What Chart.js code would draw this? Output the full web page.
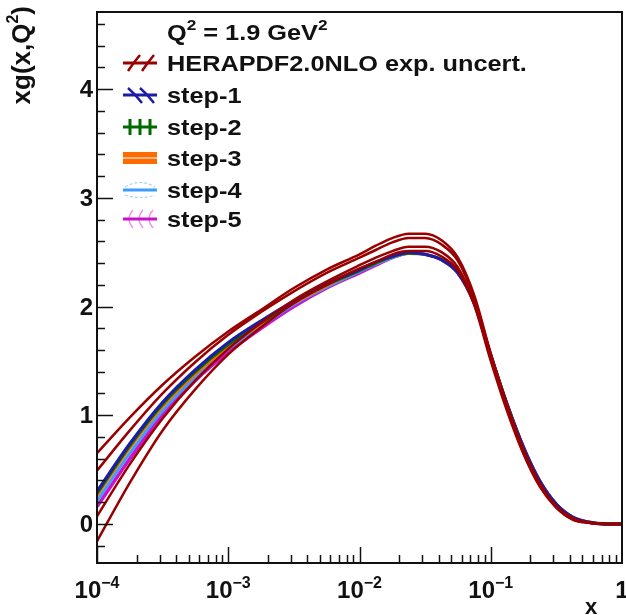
<!DOCTYPE html>
<html>
<head>
<meta charset="utf-8">
<script src="https://cdn.jsdelivr.net/npm/chart.js@4.4.0/dist/chart.umd.min.js"></script>
<style>
  html, body { margin: 0; padding: 0; background: #fff; }
  #wrap { width: 626px; height: 615px; position: relative; }
</style>
</head>
<body>
<div id="wrap"><canvas id="chart"></canvas></div>
<script>
// x grid: 4 points per decade below 0.01, 8 per decade above
const xPoints = [0.0001, 0.000178, 0.000316, 0.000562, 0.001, 0.00178, 0.00316, 0.00562,
                 0.01, 0.0133, 0.0178, 0.0237, 0.0316, 0.0422, 0.0562, 0.075,
                 0.1, 0.133, 0.178, 0.237, 0.316, 0.422, 0.562, 0.75, 1];

// HERAPDF2.0NLO exp. uncert. band edges
const heraUpperOuter = [0.65, 0.98, 1.28, 1.54, 1.77, 1.97, 2.17, 2.34, 2.48, 2.56, 2.63, 2.67, 2.67, 2.61, 2.45, 2.10,
                        1.57, 1.10, 0.68, 0.37, 0.16, 0.05, 0.01, 0, 0];
const heraUpperInner = [0.49, 0.86, 1.20, 1.49, 1.74, 1.95, 2.14, 2.31, 2.45, 2.52, 2.59, 2.63, 2.63, 2.57, 2.42, 2.07,
                        1.55, 1.08, 0.67, 0.36, 0.16, 0.05, 0.01, 0, 0];
const heraLowerInner = [0.07, 0.55, 0.97, 1.32, 1.61, 1.85, 2.06, 2.23, 2.38, 2.45, 2.51, 2.55, 2.55, 2.50, 2.36, 2.03,
                        1.52, 1.06, 0.65, 0.35, 0.15, 0.04, 0.01, 0, 0];
const heraLowerOuter = [-0.16, 0.38, 0.86, 1.24, 1.56, 1.81, 2.03, 2.20, 2.35, 2.41, 2.48, 2.51, 2.51, 2.46, 2.33, 2.01,
                        1.50, 1.04, 0.64, 0.34, 0.15, 0.04, 0.01, 0, 0];

// step fits
const step1 = [0.30, 0.74, 1.12, 1.42, 1.67, 1.87, 2.05, 2.21, 2.34, 2.41, 2.46, 2.50, 2.48, 2.43, 2.31, 2.03,
               1.55, 1.10, 0.70, 0.39, 0.18, 0.06, 0.015, 0, 0];
const step2 = [0.28, 0.72, 1.10, 1.40, 1.65, 1.85, 2.04, 2.20, 2.33, 2.40, 2.46, 2.49, 2.48, 2.43, 2.31, 2.03,
               1.55, 1.10, 0.70, 0.39, 0.18, 0.06, 0.015, 0, 0];
const step3 = [0.26, 0.70, 1.08, 1.38, 1.63, 1.84, 2.03, 2.19, 2.33, 2.40, 2.46, 2.49, 2.48, 2.43, 2.31, 2.03,
               1.55, 1.10, 0.70, 0.39, 0.18, 0.06, 0.015, 0, 0];
const step4 = [0.21, 0.65, 1.04, 1.35, 1.61, 1.82, 2.02, 2.18, 2.32, 2.39, 2.45, 2.49, 2.48, 2.43, 2.31, 2.03,
               1.55, 1.10, 0.70, 0.39, 0.18, 0.06, 0.015, 0, 0];
const step5 = [0.16, 0.60, 1.00, 1.32, 1.58, 1.80, 2.00, 2.17, 2.31, 2.38, 2.45, 2.49, 2.48, 2.43, 2.31, 2.03,
               1.55, 1.10, 0.70, 0.39, 0.18, 0.06, 0.015, 0, 0];

const legendLabels = ['HERAPDF2.0NLO exp. uncert.', 'step-1', 'step-2', 'step-3', 'step-4', 'step-5'];
const yTickLabels = ['0', '1', '2', '3', '4'];
const xTickExponents = ['-4', '-3', '-2', '-1'];

const RED = '#990000', BLUE = '#1c1ca8', GREEN = '#006a00', ORANGE = '#ff6a00', LBLUE = '#3d9cff', MAG = '#cc10cc';
const FONT = '"Liberation Sans", Arial, sans-serif';

function pts(ys) { return xPoints.map((x, i) => ({ x: x, y: ys[i] })); }
function line(label, ys, color, w) {
  return { label: label, data: pts(ys), borderColor: color, backgroundColor: color,
           borderWidth: w, pointRadius: 0, fill: false, cubicInterpolationMode: 'monotone' };
}

// draw a run of text pieces [text, size, dy], horizontally stretched by sx
function textRun(ctx, parts, x, y, sx, align) {
  let w = 0;
  for (const [t, size] of parts) { ctx.font = 'bold ' + size + 'px ' + FONT; w += ctx.measureText(t).width; }
  let start = x;
  if (align === 'center') start = x - w * sx / 2;
  if (align === 'right') start = x - w * sx;
  ctx.save();
  ctx.translate(start, y);
  ctx.scale(sx, 1);
  let cx = 0;
  for (const [t, size, dy] of parts) {
    ctx.font = 'bold ' + size + 'px ' + FONT;
    ctx.fillText(t, cx, dy || 0);
    cx += ctx.measureText(t).width;
  }
  ctx.restore();
}

const decorations = {
  id: 'decorations',
  afterDraw(chart) {
    const { ctx, chartArea: a, scales: { x, y } } = chart;
    ctx.save();
    ctx.fillStyle = '#111';
    ctx.strokeStyle = '#111';
    ctx.textBaseline = 'alphabetic';

    // frame
    ctx.lineWidth = 2;
    ctx.strokeRect(a.left, a.top, a.right - a.left, a.bottom - a.top);

    // y ticks (inside, left)
    ctx.lineWidth = 1.5;
    for (let i = -1; i <= 23; i++) {
      const v = i * 0.2;
      const py = Math.round(y.getPixelForValue(v)) + 0.5;
      if (py < a.top || py > a.bottom) continue;
      const major = i % 5 === 0;
      ctx.beginPath();
      ctx.moveTo(a.left, py);
      ctx.lineTo(a.left + (major ? 16 : 8), py);
      ctx.stroke();
    }
    yTickLabels.forEach((lab, i) => {
      textRun(ctx, [[lab, 24]], a.left - 4, y.getPixelForValue(i) + 8, 1.0, 'right');
    });

    // x ticks (inside, bottom)
    for (let d = -4; d < 0; d++) {
      for (let k = 1; k <= 9; k++) {
        const px = Math.round(x.getPixelForValue(k * Math.pow(10, d))) + 0.5;
        ctx.beginPath();
        ctx.moveTo(px, a.bottom);
        ctx.lineTo(px, a.bottom - (k === 1 ? 16 : 8));
        ctx.stroke();
      }
    }
    xTickExponents.forEach((e, i) => {
      const px = x.getPixelForValue(Math.pow(10, -4 + i));
      textRun(ctx, [['10', 24, 0], ['\u2212' + e.slice(1), 16, -10]], px, a.bottom + 35, 1.0, 'center');
    });
    textRun(ctx, [['1', 24]], x.getPixelForValue(1), a.bottom + 35, 1.0, 'center');

    // axis titles
    textRun(ctx, [['x', 22]], 591, 614, 1.0, 'center');
    ctx.save();
    ctx.translate(30, 6);
    ctx.rotate(-Math.PI / 2);
    textRun(ctx, [['xg(x,Q', 26, 0], ['2', 16, -12], [')', 26, 0]], 0, 0, 1.0, 'right');
    ctx.restore();

    // legend
    const tx = 167, sx = 1.15;
    textRun(ctx, [['Q', 22, 0], ['2', 15, -10], [' = 1.9 GeV', 22, 0], ['2', 15, -10]], tx, 40, sx, 'left');
    const rows = [63, 95, 127, 158, 190, 219];
    rows.forEach((ry, i) => {
      textRun(ctx, [[legendLabels[i], 22]], tx, ry + 8, sx, 'left');
    });
    const x0 = 123, x1 = 157;
    ctx.lineCap = 'butt';
    // HERAPDF
    let ry = rows[0];
    ctx.strokeStyle = RED; ctx.lineWidth = 3;
    ctx.beginPath(); ctx.moveTo(x0, ry); ctx.lineTo(x1, ry); ctx.stroke();
    ctx.lineWidth = 2.5;
    [[128, 140], [142, 154]].forEach(([s, e]) => {
      ctx.beginPath(); ctx.moveTo(s, ry + 8); ctx.quadraticCurveTo(s + 6, ry - 1, e, ry - 8); ctx.stroke();
    });
    // step-1
    ry = rows[1];
    ctx.strokeStyle = BLUE; ctx.lineWidth = 3;
    ctx.beginPath(); ctx.moveTo(x0, ry); ctx.lineTo(x1, ry); ctx.stroke();
    ctx.lineWidth = 2.5;
    [[128, 142], [140, 154]].forEach(([s, e]) => {
      ctx.beginPath(); ctx.moveTo(s, ry - 7); ctx.quadraticCurveTo(s + 7, ry - 1, e, ry + 8); ctx.stroke();
    });
    // step-2
    ry = rows[2];
    ctx.strokeStyle = GREEN; ctx.lineWidth = 3;
    ctx.beginPath(); ctx.moveTo(x0, ry); ctx.lineTo(x1, ry); ctx.stroke();
    [130, 140, 150].forEach(px => {
      ctx.beginPath(); ctx.moveTo(px, ry - 8); ctx.lineTo(px, ry + 8); ctx.stroke();
    });
    // step-3
    ry = rows[3];
    ctx.fillStyle = ORANGE;
    ctx.fillRect(x0, ry - 6, x1 - x0, 12);
    ctx.strokeStyle = '#ffd0b0'; ctx.lineWidth = 1.5;
    ctx.beginPath(); ctx.moveTo(x0, ry); ctx.lineTo(x1, ry); ctx.stroke();
    // step-4
    ry = rows[4];
    ctx.strokeStyle = LBLUE; ctx.lineWidth = 3;
    ctx.beginPath(); ctx.moveTo(x0, ry); ctx.lineTo(x1, ry); ctx.stroke();
    ctx.strokeStyle = '#a8d0ff'; ctx.lineWidth = 1.2; ctx.setLineDash([3, 2]);
    ctx.beginPath(); ctx.moveTo(x0 + 2, ry - 3); ctx.quadraticCurveTo(140, ry - 12, x1 - 2, ry - 3); ctx.stroke();
    ctx.beginPath(); ctx.moveTo(x0 + 2, ry + 5); ctx.quadraticCurveTo(140, ry + 10, x1 - 2, ry + 5); ctx.stroke();
    ctx.setLineDash([]);
    // step-5
    ry = rows[5];
    ctx.strokeStyle = '#f090f0'; ctx.lineWidth = 1.3;
    [128, 138, 148].forEach(px => {
      ctx.beginPath(); ctx.moveTo(px + 5, ry - 9); ctx.quadraticCurveTo(px - 3, ry, px + 5, ry + 9); ctx.stroke();
    });
    ctx.strokeStyle = MAG; ctx.lineWidth = 3;
    ctx.beginPath(); ctx.moveTo(x0, ry); ctx.lineTo(x1, ry); ctx.stroke();

    ctx.restore();
  }
};

new Chart(document.getElementById('chart'), {
  type: 'line',
  data: {
    datasets: [
      line('hera-uo', heraUpperOuter, RED, 2.5),
      line('hera-ui', heraUpperInner, RED, 2.5),
      line('hera-li', heraLowerInner, RED, 2.5),
      line('hera-lo', heraLowerOuter, RED, 2.5),
      line(legendLabels[1], step1, BLUE, 3),
      line(legendLabels[2], step2, GREEN, 3),
      line(legendLabels[3], step3, ORANGE, 3),
      line(legendLabels[4], step4, LBLUE, 3),
      line(legendLabels[5], step5, MAG, 3.5)
    ]
  },
  options: {
    responsive: true,
    maintainAspectRatio: false,
    animation: false,
    layout: { padding: { left: 97, right: 4, top: 12, bottom: 52 } },
    plugins: { legend: { display: false }, tooltip: { enabled: false } },
    scales: {
      x: { type: 'logarithmic', display: false, min: 0.0001, max: 1 },
      y: { type: 'linear', display: false, min: -0.36, max: 4.71 }
    }
  },
  plugins: [decorations]
});
</script>
</body>
</html>
